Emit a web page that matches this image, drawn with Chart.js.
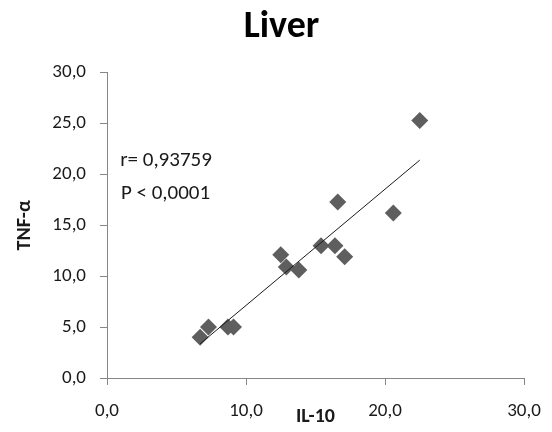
<!DOCTYPE html>
<html>
<head>
<meta charset="utf-8">
<script src="https://cdn.jsdelivr.net/npm/chart.js@4"></script>
<style>
  html, body { margin: 0; padding: 0; background: #fff; }
  #wrap { width: 552px; height: 432px; }
</style>
</head>
<body>
<div id="wrap"><canvas id="myChart" width="552" height="432"></canvas></div>
<script>
// IL-10 (x) vs TNF-alpha (y), liver
const il10 = [6.7, 7.3, 8.7, 9.1, 12.5, 12.9, 13.8, 15.4, 16.4, 16.6, 17.1, 20.6, 22.5];
const tnf = [4.0, 5.0, 5.0, 5.0, 12.1, 10.9, 10.6, 13.0, 13.0, 17.3, 11.9, 16.2, 25.3];
const statLines = ["r= 0,93759", "P < 0,0001"];
const axisMin = 0;
const axisMax = 30;

const fontFam = "Carlito, Lato, 'DejaVu Sans', sans-serif";
const axisGray = "#868686";

// least squares trend line from the data
let n = il10.length, sx = 0, sy = 0, sxy = 0, sxx = 0;
for (let i = 0; i < n; i++) {
  sx += il10[i]; sy += tnf[i];
  sxy += il10[i] * tnf[i]; sxx += il10[i] * il10[i];
}
const slope = (n * sxy - sx * sy) / (n * sxx - sx * sx);
const icpt = (sy - slope * sx) / n;
const xLo = Math.min(...il10), xHi = Math.max(...il10);
const trend = [{ x: xLo, y: icpt + slope * xLo }, { x: xHi, y: icpt + slope * xHi }];

const points = il10.map((v, i) => ({ x: v, y: tnf[i] }));

const fmt = v => v.toFixed(1).replace(".", ",");

const statText = {
  id: "statText",
  afterDatasetsDraw(chart) {
    const ctx = chart.ctx;
    const xs = chart.scales.x, ys = chart.scales.y;
    ctx.save();
    ctx.font = "21px " + fontFam;
    ctx.fillStyle = "#1a1a1a";
    ctx.textAlign = "left";
    ctx.textBaseline = "middle";
    ctx.fillText(statLines[0], xs.getPixelForValue(0.95), ys.getPixelForValue(21.3));
    ctx.fillText(statLines[1], xs.getPixelForValue(1.0), ys.getPixelForValue(18.1));
    ctx.restore();
  }
};

new Chart(document.getElementById("myChart"), {
  type: "scatter",
  data: {
    datasets: [
      {
        type: "line",
        data: trend,
        borderColor: "#1a1a1a",
        borderWidth: 1,
        pointRadius: 0,
        fill: false,
        order: 0
      },
      {
        data: points,
        pointStyle: "rectRot",
        pointRadius: 8.5,
        backgroundColor: "#5e5e5e",
        borderColor: "#5e5e5e",
        borderWidth: 0,
        order: 1
      }
    ]
  },
  options: {
    responsive: false,
    animation: false,
    layout: { padding: { left: 11, right: 0, top: 0, bottom: 0 } },
    plugins: {
      legend: { display: false },
      tooltip: { enabled: false },
      title: {
        display: true,
        text: "Liver",
        color: "#000",
        font: { family: fontFam, size: 38, weight: "bold" },
        padding: { top: 5, bottom: 22 }
      }
    },
    scales: {
      x: {
        type: "linear",
        min: axisMin,
        max: axisMax,
        border: { display: true, color: axisGray, width: 1 },
        grid: { drawOnChartArea: false, drawTicks: true, tickLength: 7, color: axisGray },
        ticks: {
          stepSize: 10,
          padding: 15,
          color: "#1a1a1a",
          font: { family: fontFam, size: 19 },
          callback: v => fmt(v)
        },
        title: {
          display: true,
          text: "IL-10",
          color: "#1a1a1a",
          font: { family: fontFam, size: 20, weight: "bold" },
          padding: { top: 0, bottom: 3 }
        },
        afterFit(scale) {
          scale.height = 54;
          scale.paddingLeft = 0;
          scale.paddingRight = 28;
        }
      },
      y: {
        type: "linear",
        min: axisMin,
        max: axisMax,
        border: { display: true, color: axisGray, width: 1 },
        grid: { drawOnChartArea: false, drawTicks: true, tickLength: 7, color: axisGray },
        ticks: {
          stepSize: 5,
          padding: 14,
          color: "#1a1a1a",
          font: { family: fontFam, size: 19 },
          callback: v => fmt(v)
        },
        title: {
          display: true,
          text: "TNF-α",
          color: "#1a1a1a",
          font: { family: fontFam, size: 20, weight: "bold" },
          padding: { top: 2, bottom: 0 }
        },
        afterFit(scale) {
          scale.width = 96;
          scale.paddingTop = 0;
          scale.paddingBottom = 0;
        }
      }
    }
  },
  plugins: [statText]
});
</script>
</body>
</html>
